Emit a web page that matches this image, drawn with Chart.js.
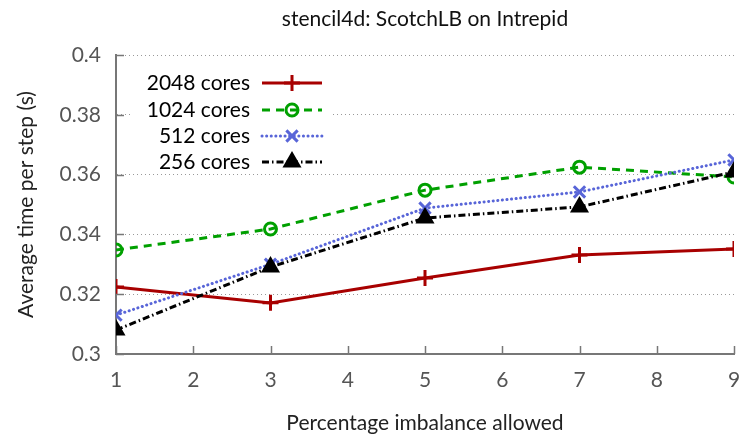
<!DOCTYPE html>
<html>
<head>
<meta charset="utf-8">
<script src="https://cdn.jsdelivr.net/npm/chart.js@4/dist/chart.umd.min.js"></script>
<style>
  html, body { margin: 0; padding: 0; background: #fff; }
  #wrap { width: 745px; height: 436px; }
</style>
</head>
<body>
<div id="wrap"><canvas id="c" width="745" height="436"></canvas></div>
<script>
var imbalance = [1, 3, 5, 7, 9];
var cores2048 = [0.3224, 0.3171, 0.3254, 0.3331, 0.3351];
var cores1024 = [0.3348, 0.3418, 0.3548, 0.3625, 0.3592];
var cores512 = [0.3130, 0.3300, 0.3488, 0.3542, 0.3649];
var cores256 = [0.3080, 0.3291, 0.3455, 0.3492, 0.3609];
var seriesNames = ['2048 cores', '1024 cores', '512 cores', '256 cores'];
var chartTitle = 'stencil4d: ScotchLB on Intrepid';

var FONT = 'Lato, "DejaVu Sans", sans-serif';

var points = function (ys) {
  return imbalance.map(function (x, i) { return {x: x, y: ys[i]}; });
};

var styles = [
  {color: '#a80000', dash: [], cap: 'butt', marker: 'cross', radius: 8, fill: '#a80000'},
  {color: '#00a000', dash: [8, 6], cap: 'butt', marker: 'circle', radius: 6, fill: 'rgba(0,0,0,0)'},
  {color: '#5865d8', dash: [0.1, 4.5], cap: 'round', marker: 'crossRot', radius: 8, fill: '#5865d8'},
  {color: '#000000', dash: [7, 3, 1.5, 3], cap: 'butt', marker: 'triangle', radius: 8, fill: '#000000'}
];

var allSeries = [cores2048, cores1024, cores512, cores256];

var datasets = allSeries.map(function (ys, i) {
  var s = styles[i];
  return {
    label: seriesNames[i],
    data: points(ys),
    borderColor: s.color,
    backgroundColor: s.fill,
    borderWidth: 3,
    borderDash: s.dash,
    borderCapStyle: s.cap,
    pointStyle: s.marker,
    pointRadius: s.radius,
    pointBorderWidth: 3,
    pointBorderColor: s.color,
    pointBackgroundColor: s.fill,
    tension: 0,
    order: 4 - i
  };
});

// gnuplot style key: text right aligned, sample on the right
var keyPlugin = {
  id: 'key',
  beforeDatasetsDraw: function (chart) {
    var ctx = chart.ctx;
    ctx.save();
    ctx.fillStyle = '#fff';
    ctx.fillRect(130, 68, 202, 104);
    ctx.restore();
  },
  afterDatasetsDraw: function (chart) {
    var ctx = chart.ctx;
    var rows = [83, 110, 136, 162];
    ctx.save();
    ctx.font = '21px ' + FONT;
    ctx.textAlign = 'right';
    ctx.textBaseline = 'middle';
    seriesNames.forEach(function (name, i) {
      var s = styles[i];
      var y = rows[i];
      ctx.fillStyle = '#000';
      ctx.fillText(name, 250, y);
      ctx.save();
      ctx.strokeStyle = s.color;
      ctx.lineWidth = 3;
      ctx.lineCap = s.cap;
      ctx.setLineDash(s.dash);
      ctx.beginPath();
      ctx.moveTo(262, y);
      ctx.lineTo(322, y);
      ctx.stroke();
      ctx.restore();
      ctx.save();
      ctx.strokeStyle = s.color;
      ctx.fillStyle = s.fill;
      ctx.lineWidth = 3;
      Chart.helpers.drawPoint(ctx, {pointStyle: s.marker, radius: s.radius, borderWidth: 3, rotation: 0}, 292, y);
      ctx.restore();
    });
    ctx.restore();
  },
  afterDraw: function (chart) {
    var ctx = chart.ctx;
    var xs = chart.scales.x, ys = chart.scales.y;
    var a = chart.chartArea;
    // title centred over the plot area
    ctx.save();
    ctx.font = '21px ' + FONT;
    ctx.fillStyle = '#111';
    ctx.textAlign = 'center';
    ctx.textBaseline = 'middle';
    ctx.fillText(chartTitle, (a.left + a.right) / 2, 19);
    ctx.restore();
    // inward ticks like gnuplot
    ctx.save();
    ctx.strokeStyle = '#777';
    ctx.lineWidth = 1.5;
    ctx.beginPath();
    ys.ticks.forEach(function (t) {
      var py = Math.round(ys.getPixelForValue(t.value)) + 0.5;
      ctx.moveTo(a.left, py);
      ctx.lineTo(a.left + 8, py);
    });
    xs.ticks.forEach(function (t) {
      var px = Math.round(xs.getPixelForValue(t.value)) + 0.5;
      ctx.moveTo(px, a.bottom);
      ctx.lineTo(px, a.bottom - 8);
    });
    ctx.stroke();
    ctx.restore();
  }
};

new Chart(document.getElementById('c'), {
  type: 'line',
  data: {datasets: datasets},
  options: {
    responsive: false,
    animation: false,
    layout: {padding: {left: 0, right: 6, top: 55, bottom: 0}},
    plugins: {
      legend: {display: false},
      tooltip: {enabled: false},
      title: {display: false}
    },
    scales: {
      x: {
        type: 'linear',
        min: 1,
        max: 9,
        ticks: {stepSize: 1, color: '#555', font: {family: FONT, size: 21}, padding: 14},
        grid: {display: false, drawTicks: false},
        border: {display: true, color: '#777', width: 2},
        title: {
          display: true,
          text: 'Percentage imbalance allowed',
          color: '#222',
          font: {family: FONT, size: 21},
          padding: {top: 5, bottom: 0}
        },
        afterFit: function (s) {
          s.height = 82;
          s.paddingLeft = 0;
          s.paddingRight = 0;
        }
      },
      y: {
        type: 'linear',
        min: 0.3,
        max: 0.4,
        ticks: {
          stepSize: 0.02,
          color: '#555',
          font: {family: FONT, size: 21},
          padding: 15,
          callback: function (v) { return String(parseFloat(v.toFixed(2))); }
        },
        grid: {color: '#999', lineWidth: 1, drawTicks: false},
        border: {display: true, color: '#777', width: 2, dash: [1, 3]},
        title: {
          display: true,
          text: 'Average time per step (s)',
          color: '#222',
          font: {family: FONT, size: 21},
          padding: {top: 14, bottom: 0}
        },
        afterFit: function (s) {
          s.width = 116;
          s.paddingTop = 0;
          s.paddingBottom = 0;
        }
      }
    }
  },
  plugins: [keyPlugin]
});
</script>
</body>
</html>
